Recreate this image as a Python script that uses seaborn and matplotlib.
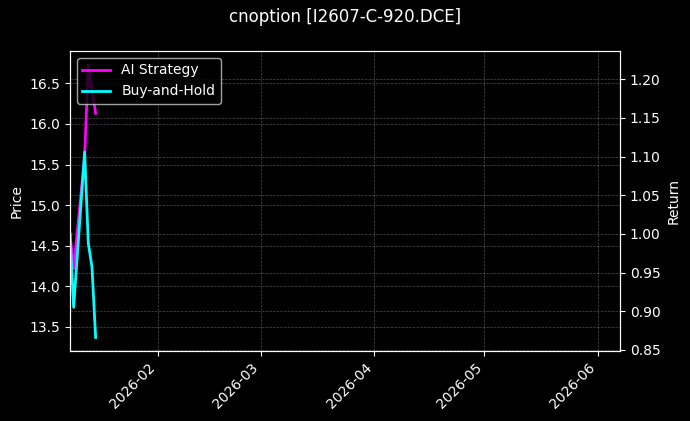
import matplotlib
matplotlib.use('Agg')
import matplotlib.pyplot as plt
import matplotlib.dates as mdates
import seaborn as sns
import pandas as pd

# values
dates = pd.to_datetime(["2026-01-08", "2026-01-09", "2026-01-12",
                        "2026-01-13", "2026-01-14", "2026-01-15"])
ai_strategy = [1.000, 0.955, 1.100, 1.219, 1.187, 1.156]
buy_and_hold = [1.000, 0.905, 1.106, 0.988, 0.957, 0.866]
price_range = (13.20, 16.90)
date_range = pd.to_datetime(["2026-01-08", "2026-06-07"])

plt.style.use('dark_background')
fig, ax1 = plt.subplots(figsize=(6.9, 4.21), dpi=100)
ax2 = ax1.twinx()

sns.lineplot(x=dates, y=ai_strategy, color="magenta", linewidth=2,
             label="AI Strategy", ax=ax2)
sns.lineplot(x=dates, y=buy_and_hold, color="cyan", linewidth=2,
             label="Buy-and-Hold", ax=ax2)

ax1.set_ylim(*price_range)
ax1.set_xlim(date_range[0], date_range[1])
ax1.set_ylabel("Price")
ax2.set_ylabel("Return")
ax1.set_xlabel("")
ax2.set_xlabel("")

ax1.xaxis.set_major_locator(mdates.MonthLocator())
ax1.xaxis.set_major_formatter(mdates.DateFormatter('%Y-%m'))
plt.setp(ax1.get_xticklabels(), rotation=45, ha='right')

ax1.grid(True, linestyle='--', linewidth=0.5, alpha=0.3)
ax2.grid(True, linestyle='--', linewidth=0.5, alpha=0.3)
ax2.legend(loc='upper left')

fig.suptitle("cnoption [I2607-C-920.DCE]")
fig.subplots_adjust(left=0.1014, right=0.8986, top=0.879, bottom=0.166)
fig.savefig("out.png", dpi=100)
plt.close(fig)
